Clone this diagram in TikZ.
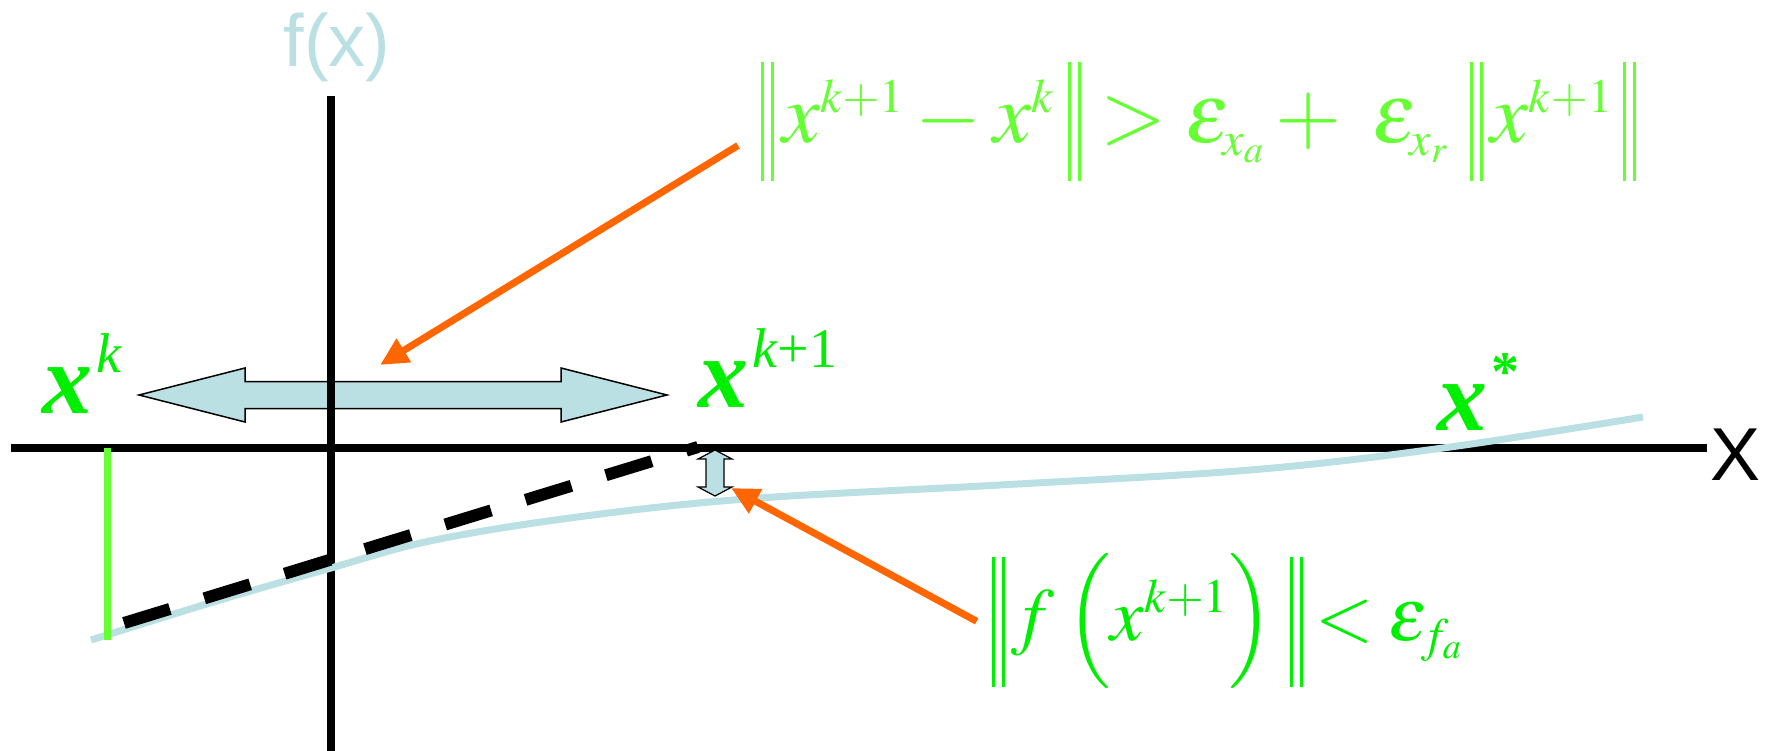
\documentclass[tikz,border=0pt]{standalone}
\usepackage{mathptmx}
\usepackage{fontspec}
\setmainfont{Liberation Serif}
\setsansfont{Liberation Sans}
\usetikzlibrary{arrows.meta, calc}
\DeclareMathSizes{100}{100}{56}{44}
\DeclareMathSizes{85}{85}{48}{38}
\DeclareMathSizes{75}{75}{48}{36}
\definecolor{lblue}{HTML}{BBE0E3}
\definecolor{vgreen}{HTML}{00EE00}
\definecolor{lgreen}{HTML}{66FF33}
\definecolor{orng}{HTML}{FF6600}
% norm bars of a given depth and height
\newcommand{\nrm}[2]{\mathord{\rule[#1]{3pt}{#2}\kern7pt\rule[#1]{3pt}{#2}}}
% iterate label: bold italic x with a raised mark
\newcommand{\itlabel}[1]{\textbf{\textit{x}}\kern4pt\raisebox{40pt}{\fontsize{56}{60}\selectfont #1}}
\tikzset{
  axisline/.style={draw=black, line width=8pt},
  fcurve/.style={draw=lblue, line width=7pt},
  secant/.style={draw=black, line width=12pt, dash pattern=on 48pt off 36pt},
  gapline/.style={draw=lgreen, line width=7pt},
  fatarrow/.style={fill=lblue, draw=black, line width=1.5pt, line join=miter},
  pointer/.style={-{Triangle[length=28pt, width=26pt]}, draw=orng, line width=7pt},
  xlabel/.style={text=vgreen, inner sep=0pt, font=\fontsize{100}{110}\selectfont},
  crit/.style={inner sep=0pt, font=\fontsize{85}{100}\selectfont},
  axlabel/.style={inner sep=0pt, font=\sffamily\fontsize{75}{85}\selectfont}
}

\begin{document}
\begin{tikzpicture}[x=1pt, y=-1pt]
  \useasboundingbox (0,0) rectangle (1770,751);
  % step between iterates
  \coordinate (stepL) at (139,395);
  \coordinate (stepR) at (667,395);
  \filldraw[fatarrow] (stepL) -- ++(106,-27) -- ++(0,13.5) -- ($(stepR)+(-106,-13.5)$) -- ++(0,-13.5)
    -- (stepR) -- ++(-106,27) -- ++(0,-13.5) -- ($(stepL)+(106,13.5)$) -- ++(0,13.5) -- cycle;
  % axes
  \draw[axisline] (11,448) -- (1707,448);
  \draw[axisline] (331,96) -- (331,751);
  \node[axlabel, text=lblue, font=\sffamily\fontsize{74}{84}\selectfont] (fx) at (337,47) {f(x)};
  \node[axlabel] (xaxis) at (1735,455) {X};
  % function
  \draw[fcurve] plot[smooth, tension=0.6] coordinates {(91,640) (210,603) (331,568) (430,541)
    (570,518) (746,499) (1000,485) (1250,470) (1443,448) (1643,417)};
  \draw[gapline] (107,448) -- (107,640);
  \coordinate (secA) at (124,623);
  \coordinate (secB) at (698,447);
  \draw[secant] (secA) -- (secB);
  % residual
  \coordinate (resT) at (715,450);
  \coordinate (resB) at (715,496);
  \filldraw[fatarrow, line width=1.2pt] (resT) -- ++(17,9) -- ++(-8,0) -- ($(resB)+(9,-9)$) -- ++(8,0)
    -- (resB) -- ++(-17,-9) -- ++(8,0) -- ($(resT)+(-9,9)$) -- ++(-8,0) -- cycle;
  % labels
  \node[xlabel, anchor=base west] (xk) at (42,413) {\itlabel{\textit{k}}};
  \node[xlabel, anchor=base west] (xk1) at (698,407) {\itlabel{\textit{k}+1}};
  \node[xlabel, anchor=base west] (xstar) at (1437,430) {\itlabel{\textbf{*}}};
  \node[crit, text=lgreen, anchor=base west] (stepcrit) at (761,143)
    {$\nrm{-38pt}{119pt}\kern8pt x^{k+1}-x^{k}\kern14pt\nrm{-38pt}{119pt}>\varepsilon_{x_a}+\;\varepsilon_{x_r}\kern22pt\nrm{-38pt}{119pt}\kern8pt x^{k+1}\kern10pt\nrm{-38pt}{119pt}$};
  \node[crit, text=vgreen, anchor=base east, font=\fontsize{75}{90}\selectfont] (rescrit) at (1462,640)
    {$\nrm{-47pt}{130pt}\kern6pt f\kern4pt\left(\rule[-38pt]{0pt}{110pt}x^{k+1}\right)\kern8pt\nrm{-47pt}{130pt}\mathrel{\kern-4pt<\kern-2pt}\varepsilon_{f_a}$};
  % pointers
  \draw[pointer] ($(stepcrit.west)+(-23,24)$) -- (380,365);
  \draw[pointer] ($(rescrit.west)+(-15,0)$) -- (731,488);
\end{tikzpicture}
\end{document}
